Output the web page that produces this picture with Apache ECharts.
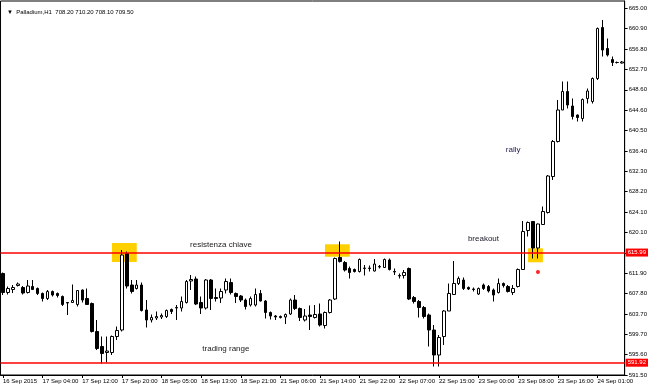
<!DOCTYPE html>
<html><head><meta charset="utf-8">
<script src="https://cdn.jsdelivr.net/npm/echarts@6/dist/echarts.min.js"></script>
<style>html,body{margin:0;padding:0;background:#fff}#c{width:650px;height:388px}</style>
</head><body><div id="c"></div>
<script>
// Time tick labels (one every 8 hourly bars)
const timeTicks = ['16 Sep 2015','17 Sep 04:00','17 Sep 12:00','17 Sep 20:00','18 Sep 05:00','18 Sep 13:00','18 Sep 21:00','21 Sep 06:00','21 Sep 14:00','21 Sep 22:00','22 Sep 07:00','22 Sep 15:00','23 Sep 00:00','23 Sep 08:00','23 Sep 16:00','24 Sep 01:00'];
// Price scale labels, bottom to top
const priceTicks = ['591.50','595.60','599.70','603.70','607.80','611.90','','620.10','624.10','628.20','632.30','636.40','640.50','644.60','648.60','652.70','656.80','660.90','665.00'];

// OHLC of the hourly bars
const open = [611.8,608.0,608.6,609.4,609.0,608.0,609.2,608.8,607.8,606.8,608.2,607.8,607.2,606.0,606.0,605.6,608.5,606.8,605.8,600.2,597.2,596.0,596.0,599.2,600.5,615.8,609.5,608.8,609.5,604.5,602.5,602.9,603.1,603.2,604.6,604.9,604.9,606.0,610.3,610.7,606.0,604.9,610.5,607.0,606.9,608.5,610.0,607.8,607.3,606.5,605.5,605.5,607.8,606.3,604.0,603.3,603.2,603.1,603.7,606.5,604.8,602.5,603.5,603.0,603.7,601.4,604.0,606.7,615.0,614.0,612.8,612.6,612.2,612.8,612.9,612.3,613.1,613.0,614.5,612.2,611.4,611.4,612.8,607.0,606.2,605.0,603.5,600.5,595.5,599.2,604.3,607.6,609.8,610.5,609.0,608.7,607.7,609.5,609.2,608.5,608.0,609.8,609.2,608.0,609.2,612.6,620.4,622.2,616.9,621.6,624.0,631.2,638.2,644.5,648.2,645.3,643.5,642.8,646.8,646.2,650.8,661.0,656.8,654.6,654.0,653.9];
const high = [612.0,609.2,609.5,610.0,609.3,610.5,610.5,609.0,608.0,608.5,608.4,608.0,607.4,606.1,609.6,608.5,608.6,608.8,606.0,602.5,599.2,599.2,599.4,601.2,616.5,616.2,610.5,610.5,610.0,606.5,603.6,604.2,603.8,604.6,604.8,605.5,607.2,610.5,611.5,611.2,607.2,610.7,610.7,608.8,608.8,610.8,610.8,608.0,607.5,606.8,607.2,608.8,608.5,606.5,604.2,603.5,603.4,603.8,606.8,607.5,605.0,604.7,605.4,605.5,605.8,604.2,606.7,615.0,618.2,614.3,613.2,612.8,614.8,613.5,613.4,614.7,613.5,614.8,614.8,612.8,611.8,612.5,613.0,607.3,606.5,605.3,603.8,601.5,599.5,604.5,609.8,614.3,611.2,611.0,609.2,609.0,609.0,609.8,609.5,608.8,610.8,610.0,609.5,609.5,612.8,622.3,622.2,622.3,621.8,625.2,631.5,638.5,646.5,650.2,650.2,646.8,643.6,646.8,648.8,651.0,661.0,662.5,658.8,655.2,654.2,654.3];
const low = [607.5,607.6,607.9,609.2,607.6,607.8,608.5,607.5,606.2,606.5,607.2,607.0,605.3,603.5,605.9,605.2,606.0,605.5,600.0,596.5,593.8,594.0,595.5,598.5,600.2,608.8,607.8,608.6,604.2,601.0,602.0,602.5,602.7,602.9,603.7,602.5,604.2,605.8,608.5,605.5,603.7,604.6,604.5,606.2,605.9,607.8,607.6,605.9,606.1,604.6,605.2,605.2,606.2,602.8,602.6,602.5,602.8,601.7,603.5,604.5,602.3,602.2,600.5,602.8,601.2,600.8,603.8,606.5,614.0,612.2,610.8,612.0,612.0,611.4,612.2,612.2,612.8,612.9,612.4,611.5,610.8,610.8,606.5,605.8,603.0,602.8,597.2,593.2,593.2,597.5,604.3,607.5,609.5,608.5,608.5,608.2,607.5,608.5,608.0,606.2,607.8,609.0,608.0,607.5,609.0,612.5,619.2,614.8,614.8,621.5,623.8,630.5,638.0,644.5,644.8,642.6,642.2,642.2,645.8,645.8,650.5,655.2,655.2,653.3,653.8,653.8];
const close = [608.0,608.8,609.0,609.7,607.9,609.3,608.6,607.8,606.8,608.2,607.5,607.4,605.6,605.9,606.4,608.4,606.5,605.6,600.2,596.8,595.8,596.3,599.2,600.4,615.5,609.3,608.2,609.5,604.4,602.5,603.0,603.2,603.4,604.4,604.2,605.0,606.2,610.2,610.6,605.7,604.9,610.5,606.8,606.8,608.2,610.2,608.0,607.2,606.5,605.2,606.8,607.6,606.3,604.0,603.3,603.1,603.0,603.6,606.5,604.8,603.0,603.3,603.2,603.6,601.5,604.0,606.5,614.8,614.2,612.5,612.0,612.2,614.6,612.9,612.8,613.7,613.2,614.6,612.6,612.1,611.3,612.0,606.7,606.2,605.0,603.2,600.5,595.5,599.0,604.3,607.8,609.8,610.8,608.8,608.7,608.6,608.8,608.8,608.3,607.5,609.8,609.4,608.2,608.8,612.6,620.2,622.0,616.9,621.7,624.2,631.3,638.2,644.5,648.2,645.5,643.2,643.0,646.6,648.3,650.8,660.8,656.5,655.5,654.0,654.0,654.1];

// Horizontal level lines (value where drawn, text shown on the scale)
const lineValues = [615.99, 593.96];
const lineLabels = ['615.99', '591.92'];
// Highlight boxes (bar index range, price range)
const boxFrom = [21.9, 64.8, 105.7];
const boxTo = [27.1, 69.8, 108.7];
const boxTop = [617.9, 617.64, 616.84];
const boxBottom = [614.1, 615.16, 614.04];
// Text notes
const noteTexts = ['resistenza chiave', 'trading range', 'breakout', 'rally'];
const noteBar = [43.8, 44.9, 96.6, 102.8];
const notePrice = [617.64, 596.84, 618.7, 636.64];
const noteColors = ['#1a1a1a', '#1a1a1a', '#1a1a2a', '#1e1a50'];

const categories = open.map((_, i) => String(i));
const ohlc = open.map((o, i) => [o, close[i], low[i], high[i]]);
const FONT = 'Liberation Sans, Arial, sans-serif';

const chart = echarts.init(document.getElementById('c'), null, {renderer: 'canvas'});
chart.setOption({
  animation: false,
  backgroundColor: '#fff',
  title: {
    text: '\u25BC  Palladium,H1  708.20 710.20 708.10 709.50',
    left: 2, top: 4,
    textStyle: {fontSize: 6, fontWeight: 'normal', color: '#000', fontFamily: FONT}
  },
  grid: {left: 0, top: 1, width: 625, height: 374, show: true, borderColor: '#000', borderWidth: 1, backgroundColor: '#fff'},
  xAxis: {
    type: 'category', data: categories, boundaryGap: true,
    axisLine: {show: true, lineStyle: {color: '#000', width: 1}},
    axisTick: {show: true, alignWithLabel: true, interval: 7, length: 3, lineStyle: {color: '#000'}},
    axisLabel: {
      interval: 7, align: 'left', fontSize: 6, margin: 3, color: '#000', fontFamily: FONT,
      formatter: (v, idx) => (idx % 8 === 0 ? (timeTicks[idx / 8] || '') : '')
    },
    splitLine: {show: false}
  },
  yAxis: [
    {type: 'value', min: 591.5, max: 666.3, show: false, position: 'right', splitLine: {show: false}},
    {type: 'value', min: 0, max: 18.36, interval: 1, position: 'right', offset: 0,
      axisLine: {show: true, lineStyle: {color: '#000'}},
      axisTick: {show: true, length: 3, lineStyle: {color: '#000'}},
      splitLine: {show: false},
      axisLabel: {
        margin: 4, fontSize: 6, color: '#000', fontFamily: FONT, showMaxLabel: false,
        formatter: v => (Math.abs(v - Math.round(v)) < 1e-6 ? (priceTicks[Math.round(v)] || '') : '')
      }
    }
  ],
  series: [{
    type: 'candlestick',
    yAxisIndex: 0,
    z: 3,
    barWidth: 3,
    data: ohlc,
    itemStyle: {color: '#fff', color0: '#000', borderColor: '#000', borderColor0: '#000', borderWidth: 1},
    markArea: {
      silent: true, z: 1,
      itemStyle: {color: '#FFD000', opacity: 1},
      data: boxFrom.map((f, i) => [{coord: [f, boxTop[i]]}, {coord: [boxTo[i], boxBottom[i]]}])
    },
    markLine: {
      silent: true, symbol: ['none', 'none'],
      lineStyle: {color: '#ff0000', width: 1.6, type: 'solid'},
      label: {show: true, position: 'end', distance: 1, backgroundColor: '#ff0000', color: '#fff',
        fontSize: 6, padding: [1, 2], fontFamily: FONT},
      data: lineValues.map((v, i) => ({yAxis: v, label: {formatter: lineLabels[i]}}))
    },
    markPoint: {
      silent: true,
      data: noteTexts.map((t, i) => ({
        coord: [noteBar[i], notePrice[i]], symbol: 'rect', symbolSize: 1,
        itemStyle: {color: 'rgba(0,0,0,0)'},
        label: {show: true, position: 'inside', formatter: t, color: noteColors[i], fontSize: 8, fontFamily: FONT}
      })).concat([{
        coord: [107.6, 612.1], symbol: 'circle', symbolSize: 4,
        itemStyle: {color: '#ff2020'}, label: {show: false}
      }])
    }
  }]
});
</script>
</body></html>
